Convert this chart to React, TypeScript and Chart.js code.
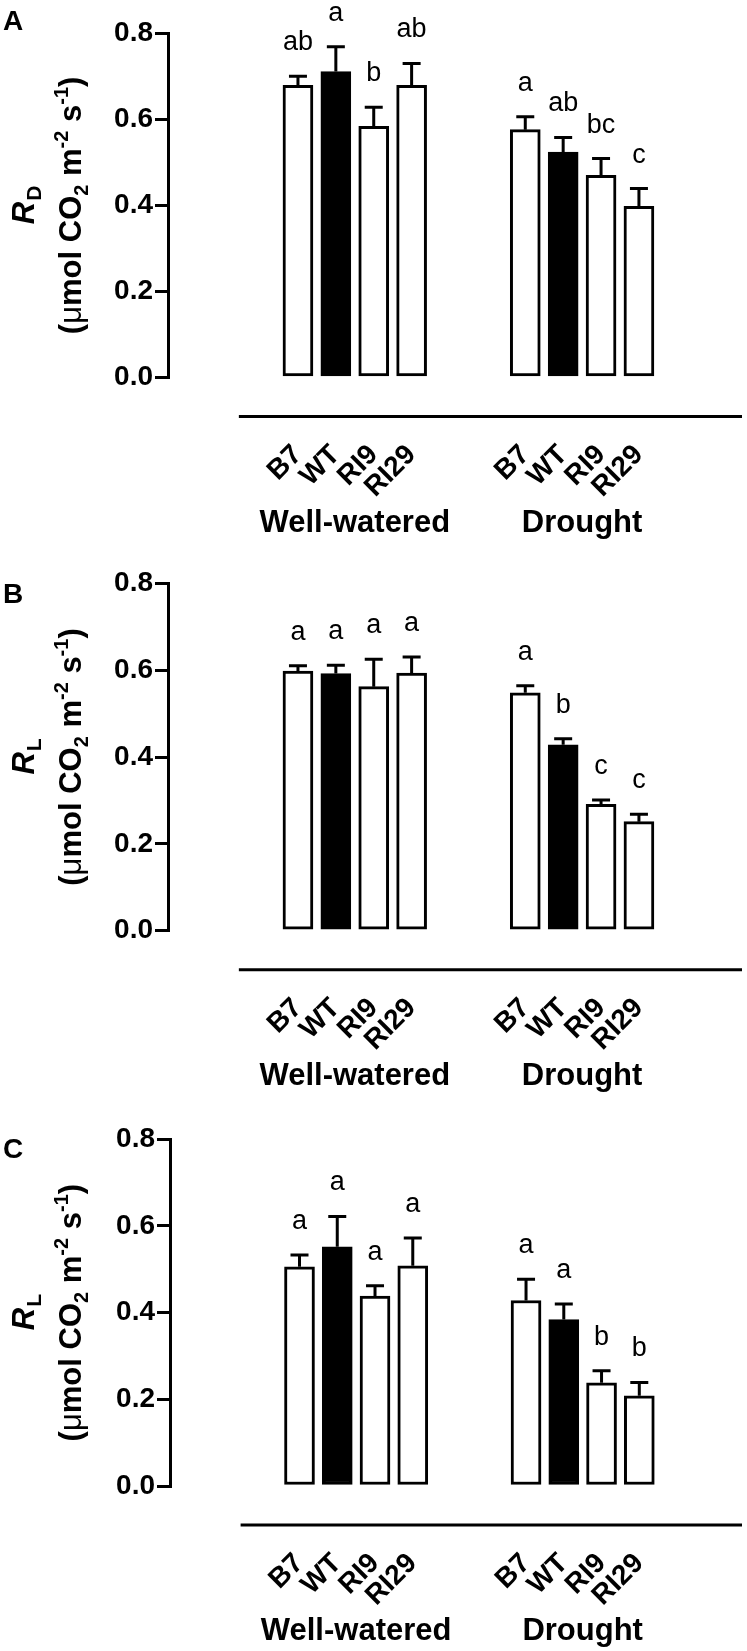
import React, { useEffect, useRef } from 'react';
import { Chart, registerables } from 'chart.js';

Chart.register(...registerables);

// ---------- data ----------
const treatments = ['Well-watered', 'Drought'];
const genotypes = ['B7', 'WT', 'RI9', 'RI29'];
const panelLetters = ['A', 'B', 'C'];
const ySubscripts = ['D', 'L', 'L'];
const yTicks = [0, 0.2, 0.4, 0.6, 0.8];

// order: Well-watered B7, WT, RI9, RI29, Drought B7, WT, RI9, RI29
const meanA = [0.679, 0.711, 0.584, 0.679, 0.576, 0.524, 0.470, 0.398];
const semA = [0.021, 0.058, 0.044, 0.051, 0.030, 0.034, 0.039, 0.041];
const lettersA = ['ab', 'a', 'b', 'ab', 'a', 'ab', 'bc', 'c'];

const meanB = [0.598, 0.592, 0.562, 0.593, 0.548, 0.428, 0.291, 0.251];
const semB = [0.012, 0.019, 0.063, 0.037, 0.016, 0.014, 0.010, 0.017];
const lettersB = ['a', 'a', 'a', 'a', 'a', 'b', 'c', 'c'];

const meanC = [0.506, 0.552, 0.438, 0.508, 0.428, 0.384, 0.238, 0.208];
const semC = [0.027, 0.070, 0.024, 0.064, 0.049, 0.036, 0.028, 0.031];
const lettersC = ['a', 'a', 'a', 'a', 'a', 'a', 'b', 'b'];

const panelMeans = [meanA, meanB, meanC];
const panelSems = [semA, semB, semC];
const panelSigLetters = [lettersA, lettersB, lettersC];

// ---------- layout / style ----------
const FONT = '"Liberation Sans", Arial, Helvetica, sans-serif';
const PANELS = [
  { top: 0, height: 550, plotTop: 33.3, plotBottom: 377.5, axisX: 168, letterBase: 30 },
  { top: 550, height: 553, plotTop: 33.3, plotBottom: 380.7, axisX: 168, letterBase: 53 },
  { top: 1103, height: 548, plotTop: 36.3, plotBottom: 383, axisX: 170, letterBase: 55 },
];
const X_MIN = -2.348;
const X_MAX = 10.638;
const GROUP_GAP = 6; // slot offset of second treatment group
const LINE_START = -1.56;

function slotOf(i: number) {
  const g = Math.floor(i / genotypes.length);
  const k = i % genotypes.length;
  return g * GROUP_GAP + k;
}

function makeOverlay(pi: number) {
  return {
    id: 'overlay' + pi,
    afterDatasetsDraw(chart: any) {
      const ctx = chart.ctx;
      const xs = chart.scales.x;
      const ys = chart.scales.y;
      const area = chart.chartArea;
      const means = panelMeans[pi];
      const sems = panelSems[pi];
      const lets = panelSigLetters[pi];
      ctx.save();
      ctx.strokeStyle = '#000';
      ctx.fillStyle = '#000';
      ctx.lineWidth = 3;
      ctx.lineCap = 'butt';
      // error bars + letters
      means.forEach((m, i) => {
        const px = xs.getPixelForValue(slotOf(i));
        const yb = ys.getPixelForValue(m);
        const yt = ys.getPixelForValue(m + sems[i]);
        ctx.beginPath();
        ctx.moveTo(px, yb);
        ctx.lineTo(px, yt);
        ctx.moveTo(px - 9, yt);
        ctx.lineTo(px + 9, yt);
        ctx.stroke();
        ctx.font = `27px ${FONT}`;
        ctx.textAlign = 'center';
        ctx.textBaseline = 'alphabetic';
        ctx.fillText(lets[i], px, yt - 26);
      });
      // separate x line
      const lineY = area.bottom + 39;
      ctx.beginPath();
      ctx.moveTo(xs.getPixelForValue(LINE_START), lineY);
      ctx.lineTo(area.right, lineY);
      ctx.stroke();
      // rotated genotype labels
      ctx.font = `bold 28px ${FONT}`;
      means.forEach((_, i) => {
        const px = xs.getPixelForValue(slotOf(i));
        ctx.save();
        ctx.translate(px - 10, lineY + 24);
        ctx.rotate(-Math.PI / 4);
        ctx.textAlign = 'right';
        ctx.textBaseline = 'top';
        ctx.fillText(genotypes[i % genotypes.length], 0, 0);
        ctx.restore();
      });
      // treatment labels
      ctx.font = `bold 31px ${FONT}`;
      ctx.textAlign = 'center';
      ctx.textBaseline = 'alphabetic';
      treatments.forEach((t, g) => {
        const c0 = xs.getPixelForValue(g * GROUP_GAP);
        const c1 = xs.getPixelForValue(g * GROUP_GAP + genotypes.length - 1);
        ctx.fillText(t, (c0 + c1) / 2, lineY + 115);
      });
      // panel letter
      ctx.font = `bold 28px ${FONT}`;
      ctx.textAlign = 'left';
      ctx.fillText(panelLetters[pi], 3, PANELS[pi].letterBase);
      // y title (rotated)
      const cy = (area.top + area.bottom) / 2;
      ctx.save();
      ctx.translate(0, cy);
      ctx.rotate(-Math.PI / 2);
      // line 1: R with subscript
      const fR = `italic bold 31px ${FONT}`;
      const fSub = `bold 21px ${FONT}`;
      ctx.font = fR;
      const wR = ctx.measureText('R').width;
      ctx.font = fSub;
      const wS = ctx.measureText(ySubscripts[pi]).width;
      const x0 = -(wR + wS) / 2;
      ctx.textAlign = 'left';
      ctx.font = fR;
      ctx.fillText('R', x0, 33.5);
      ctx.font = fSub;
      ctx.fillText(ySubscripts[pi], x0 + wR + 1, 41);
      // line 2
      const big = `bold 31px ${FONT}`;
      const mu = `31px ${FONT}`;
      const small = `bold 20px ${FONT}`;
      const parts: [string, string, number][] = [
        ['(', big, 0],
        ['\u03bc', mu, 0],
        ['mol CO', big, 0],
        ['2', small, 7],
        [' m', big, 0],
        ['-2', small, -13],
        [' s', big, 0],
        ['-1', small, -13],
        [')', big, 0],
      ];
      let total = 0;
      parts.forEach(([s, f]) => {
        ctx.font = f;
        total += ctx.measureText(s).width;
      });
      let x = -total / 2;
      const base2 = 81;
      parts.forEach(([s, f, dy]) => {
        ctx.font = f;
        ctx.fillText(s, x, base2 + dy);
        x += ctx.measureText(s).width;
      });
      ctx.restore();
      ctx.restore();
    },
  };
}

function Panel({ pi }: { pi: number }) {
  const ref = useRef<HTMLCanvasElement>(null);
  const cfg = PANELS[pi];
  useEffect(() => {
    if (!ref.current) return;
    const means = panelMeans[pi];
    const chart = new Chart(ref.current, {
      type: 'bar',
      data: {
        datasets: [
          {
            data: means.map((m, i) => ({ x: slotOf(i), y: m })),
            backgroundColor: means.map((_, i) => (genotypes[i % genotypes.length] === 'WT' ? '#000' : '#fff')),
            borderColor: '#000',
            borderWidth: 3,
            borderSkipped: false,
            barThickness: 30,
          } as any,
        ],
      },
      options: {
        animation: false,
        responsive: false,
        events: [],
        layout: {
          padding: { top: cfg.plotTop, bottom: cfg.height - cfg.plotBottom, left: 0, right: 5 },
        },
        plugins: { legend: { display: false }, tooltip: { enabled: false } },
        scales: {
          x: { type: 'linear', min: X_MIN, max: X_MAX, display: false },
          y: {
            min: 0,
            max: 0.8,
            afterFit: (s: any) => {
              s.width = cfg.axisX;
            },
            afterBuildTicks: (s: any) => {
              s.ticks = yTicks.map((v) => ({ value: v }));
            },
            border: { display: true, width: 3, color: '#000' },
            grid: { drawOnChartArea: false, drawTicks: true, tickLength: 13, lineWidth: 3, color: '#000' },
            ticks: {
              padding: 2,
              color: '#000',
              font: { family: FONT, size: 28, weight: 'bold' },
              callback: (v: any) => Number(v).toFixed(1),
            },
          },
        },
      } as any,
      plugins: [makeOverlay(pi)],
    });
    return () => chart.destroy();
  }, [pi]);
  return (
    <canvas
      ref={ref}
      width={747}
      height={cfg.height}
      style={{ position: 'absolute', left: 0, top: cfg.top, width: 747, height: cfg.height }}
    />
  );
}

export default function App() {
  return (
    <div style={{ position: 'absolute', left: 0, top: 0, width: 747, height: 1651, background: '#fff' }}>
      {PANELS.map((_, pi) => (
        <Panel key={pi} pi={pi} />
      ))}
    </div>
  );
}
